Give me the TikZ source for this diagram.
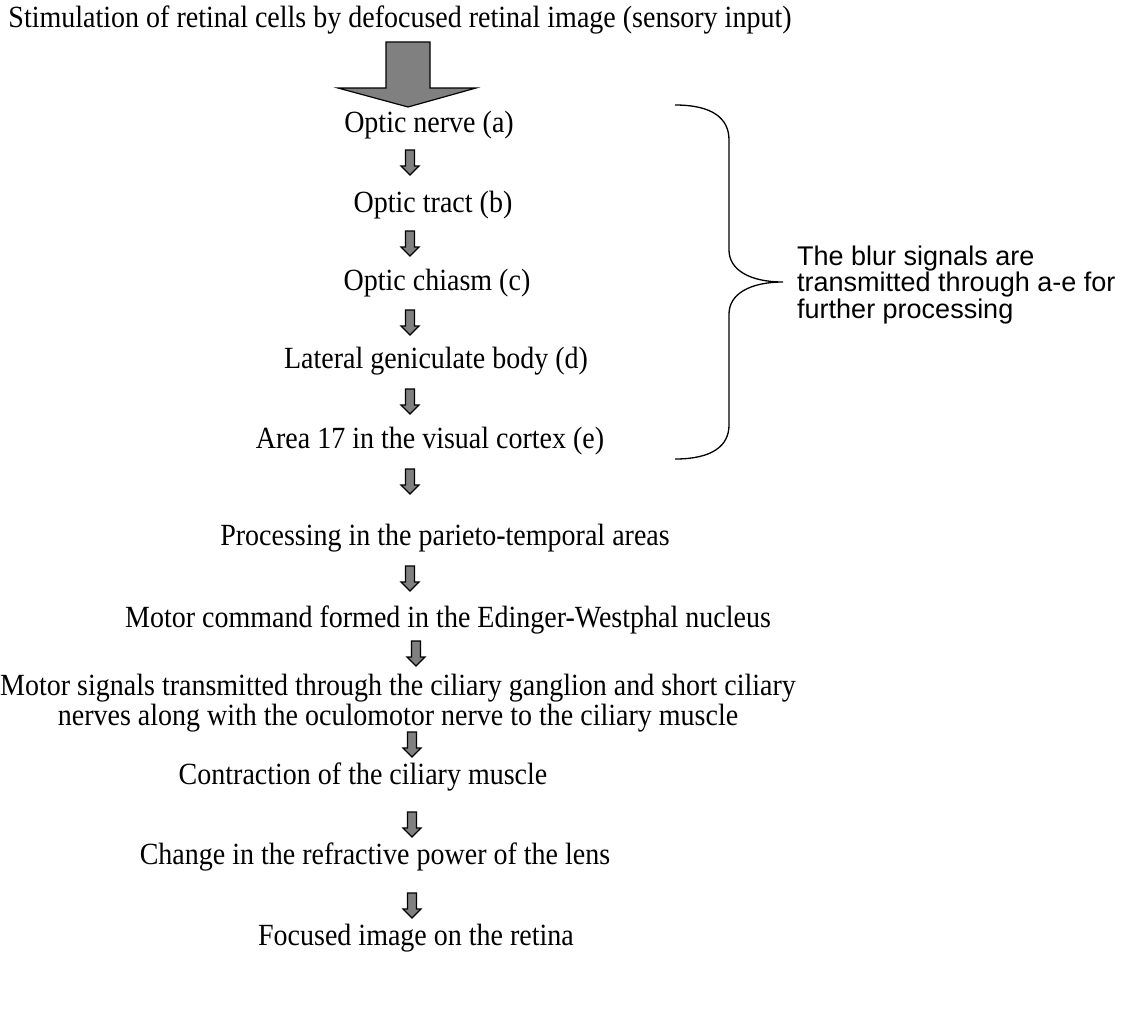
\documentclass[tikz,border=0pt]{standalone}
\usepackage{fontspec}
\setmainfont{Liberation Serif}
\newfontfamily\notefont{Liberation Sans}

\tikzset{
  lbl/.style={inner sep=0pt, yscale=1.1, font=\fontsize{28}{27.5}\selectfont, align=center},
  note/.style={inner sep=0pt, anchor=west, align=left, font=\notefont\fontsize{27}{26.5}\selectfont},
  blk/.style={draw=black, fill=black!50, line width=1.2pt, line join=miter},
  pics/downarr/.style={code={
    \draw[blk] (-4.5,0) -- (-4.5,16) -- (-9,16) -- (0,25) -- (9,16) -- (4.5,16) -- (4.5,0) -- cycle;
  }}
}

\begin{document}
\begin{tikzpicture}[x=1pt, y=-1pt]

  \useasboundingbox (0,0) rectangle (1131,1026);

  \node[lbl] (input)   at (400,20)  {Stimulation of retinal cells by defocused retinal image (sensory input)};
  \draw[blk] (386,42) -- (430,42) -- (430,88) -- (476,88) -- (408,107) -- (338,88) -- (386,88) -- cycle;

  \node[lbl] (nerve)   at (429,125) {Optic nerve (a)};
  \node[lbl] (tract)   at (433,205) {Optic tract (b)};
  \node[lbl] (chiasm)  at (437,283) {Optic chiasm (c)};
  \node[lbl] (lgb)     at (436,361) {Lateral geniculate body (d)};
  \node[lbl] (area)    at (430,441) {Area 17 in the visual cortex (e)};
  \node[lbl] (parieto) at (445,538) {Processing in the parieto-temporal areas};
  \node[lbl] (command) at (448,620) {Motor command formed in the Edinger-Westphal nucleus};
  \node[lbl] (signals) at (398,703) {Motor signals transmitted through the ciliary ganglion and short ciliary\\
                                     nerves along with the oculomotor nerve to the ciliary muscle};
  \node[lbl] (muscle)  at (363,777) {Contraction of the ciliary muscle};
  \node[lbl] (lens)    at (375,857) {Change in the refractive power of the lens};
  \node[lbl] (focus)   at (416,938) {Focused image on the retina};

  % small block arrows down the chain
  \pic at (410,150) {downarr};
  \pic at (410,231) {downarr};
  \pic at (410,310) {downarr};
  \pic at (410,389) {downarr};
  \pic at (410,469) {downarr};
  \pic at (410,566) {downarr};
  \pic at (416,641) {downarr};
  \pic at (412,732) {downarr};
  \pic at (412,812) {downarr};
  \pic at (412,893) {downarr};

  % brace over a-e
  \draw[line width=1.3pt] (675,105) .. controls (712,105) and (729,118) .. (729,140)
        -- (729,250) .. controls (729,270) and (750,282) .. (783,282)
        .. controls (750,282) and (729,294) .. (729,314)
        -- (729,425) .. controls (729,446) and (712,459) .. (675,459);
  \node[note] (blur) at (797,285) {The blur signals are\\transmitted through a-e for\\further processing};

\end{tikzpicture}
\end{document}
